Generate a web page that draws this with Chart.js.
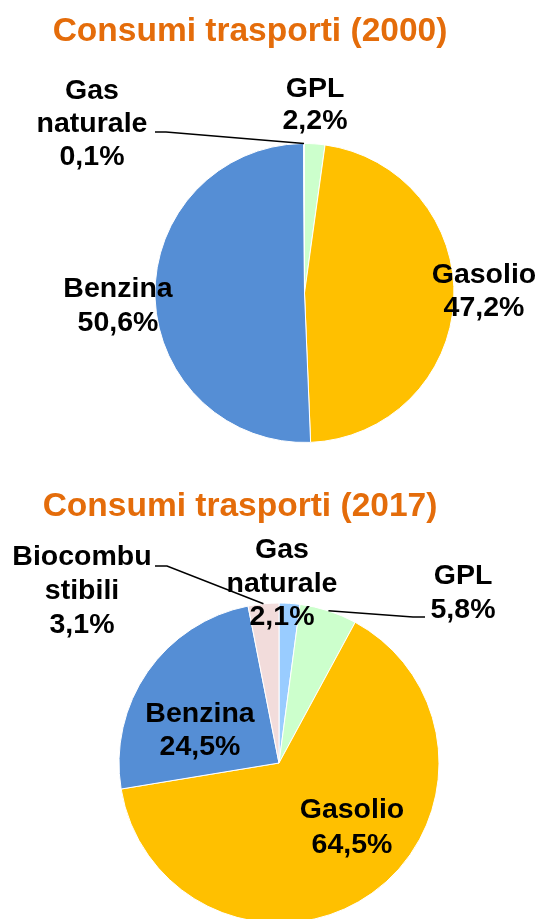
<!DOCTYPE html>
<html>
<head>
<meta charset="utf-8">
<script src="https://cdn.jsdelivr.net/npm/chart.js@4"></script>
<style>
  html, body { margin: 0; padding: 0; background: #ffffff; }
  body { width: 539px; height: 919px; position: relative; overflow: hidden; }
  canvas { position: absolute; left: 0; }
  #c1 { top: 0; }
  #c2 { top: 470px; }
</style>
</head>
<body>
<canvas id="c1" width="539" height="470"></canvas>
<canvas id="c2" width="539" height="449"></canvas>
<script>
// ---- Data ----
const title2000 = 'Consumi trasporti (2000)';
const categories2000 = ['GPL', 'Gasolio', 'Benzina', 'Gas naturale'];
const labelLines2000 = [['GPL'], ['Gasolio'], ['Benzina'], ['Gas', 'naturale']];
const values2000 = [2.2, 47.2, 50.6, 0.1];

const title2017 = 'Consumi trasporti (2017)';
const categories2017 = ['Gas naturale', 'GPL', 'Gasolio', 'Benzina', 'Biocombustibili'];
const labelLines2017 = [['Gas', 'naturale'], ['GPL'], ['Gasolio'], ['Benzina'], ['Biocombu', 'stibili']];
const values2017 = [2.1, 5.8, 64.5, 24.5, 3.1];

// ---- Styles ----
const colorMap = {
  'GPL': '#CCFFCC',
  'Gasolio': '#FFC000',
  'Benzina': '#558ED5',
  'Gas naturale': '#99CCFF',
  'Biocombustibili': '#F2DCDB'
};
const TITLE_COLOR = '#E46C0A';
const FONT = '"Liberation Sans", Arial, Helvetica, sans-serif';

function fmt(v) { return v.toFixed(1).replace('.', ',') + '%'; }

const labelPlugin = {
  id: 'sliceLabels',
  afterDraw(chart) {
    const o = chart.options.plugins.sliceLabels;
    const ctx = chart.ctx;
    const oy = o.offsetY;
    ctx.save();
    // title
    ctx.fillStyle = TITLE_COLOR;
    ctx.font = 'bold 33.5px ' + FONT;
    ctx.textAlign = 'center';
    ctx.textBaseline = 'alphabetic';
    ctx.fillText(o.title, o.titleX, o.titleY - oy);
    // labels
    const meta = chart.getDatasetMeta(0);
    const values = chart.data.datasets[0].data;
    ctx.font = 'bold 28.5px ' + FONT;
    o.placements.forEach((p, i) => {
      const lines = o.lines[i].concat([fmt(values[i])]);
      ctx.fillStyle = '#000000';
      lines.forEach((t, k) => {
        ctx.fillText(t, p.x, p.y - oy + k * p.lh);
      });
      if (p.leader) {
        const arc = meta.data[i];
        const a = (arc.startAngle + arc.endAngle) / 2;
        const ax = arc.x + Math.cos(a) * arc.outerRadius;
        const ay = arc.y + Math.sin(a) * arc.outerRadius;
        ctx.strokeStyle = '#000000';
        ctx.lineWidth = 1.5;
        ctx.beginPath();
        ctx.moveTo(p.leader[0][0], p.leader[0][1] - oy);
        for (let k = 1; k < p.leader.length; k++) ctx.lineTo(p.leader[k][0], p.leader[k][1] - oy);
        ctx.lineTo(ax, ay);
        ctx.stroke();
      }
    });
    ctx.restore();
  }
};

function makeChart(id, cats, vals, lines, cfg) {
  return new Chart(document.getElementById(id), {
    type: 'pie',
    data: {
      labels: cats,
      datasets: [{
        data: vals,
        backgroundColor: cats.map(c => colorMap[c]),
        borderColor: '#ffffff',
        borderWidth: 1,
        clip: false
      }]
    },
    options: {
      responsive: false,
      animation: false,
      devicePixelRatio: 1,
      radius: cfg.radius,
      layout: { padding: cfg.padding },
      plugins: {
        legend: { display: false },
        tooltip: { enabled: false },
        sliceLabels: {
          offsetY: cfg.offsetY,
          title: cfg.title, titleX: cfg.titleX, titleY: cfg.titleY,
          lines: lines,
          placements: cfg.placements
        }
      }
    },
    plugins: [labelPlugin]
  });
}

makeChart('c1', categories2000, values2000, labelLines2000, {
  radius: 149.5,
  padding: { left: 70, right: 0, top: 116, bottom: 0 },
  offsetY: 0,
  title: title2000, titleX: 250, titleY: 41,
  placements: [
    { x: 315, y: 97, lh: 32 },
    { x: 484, y: 283, lh: 33 },
    { x: 118, y: 297, lh: 34 },
    { x: 92, y: 99, lh: 33, leader: [[155, 132], [166, 132]] }
  ]
});

makeChart('c2', categories2017, values2017, labelLines2017, {
  radius: 160,
  padding: { left: 19, right: 0, top: 137, bottom: 0 },
  offsetY: 470,
  title: title2017, titleX: 240, titleY: 516,
  placements: [
    { x: 282, y: 558, lh: 33.5 },
    { x: 463, y: 584, lh: 34, leader: [[425, 617], [413, 617]] },
    { x: 352, y: 818, lh: 35 },
    { x: 200, y: 722, lh: 33 },
    { x: 82, y: 565, lh: 34, leader: [[155, 566], [167, 566]] }
  ]
});
</script>
</body>
</html>
